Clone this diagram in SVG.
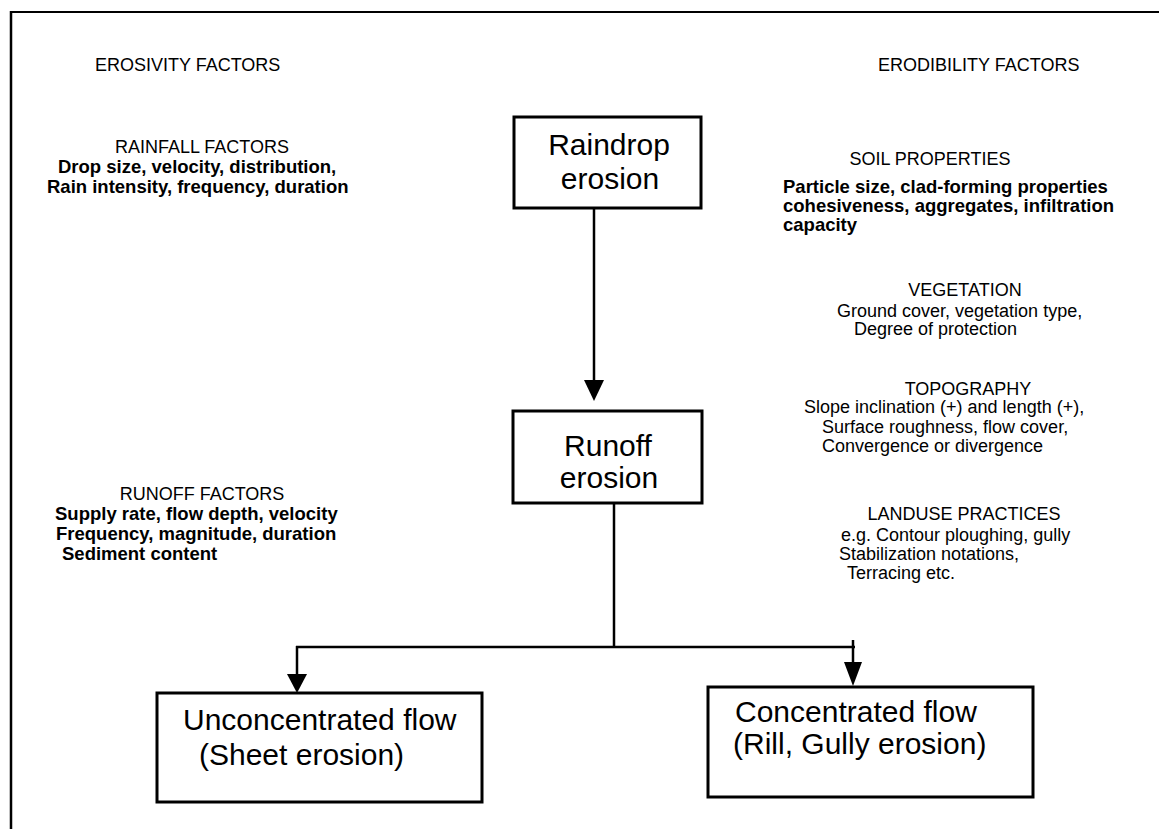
<svg xmlns="http://www.w3.org/2000/svg" width="1159" height="829" viewBox="0 0 1159 829">
<style>
.h{font-family:"Liberation Sans",Arial,sans-serif;font-size:18px;fill:#000}
.b{font-family:"Liberation Sans",Arial,sans-serif;font-size:18.5px;font-weight:bold;fill:#000}
.r{font-family:"Liberation Sans",Arial,sans-serif;font-size:18px;fill:#000}
.bx{font-family:"Liberation Sans",Arial,sans-serif;font-size:30px;fill:#000}
.box{fill:#fff;stroke:#000;stroke-width:3}
.ln{stroke:#000;stroke-width:2.5;fill:none}
.hd{fill:#000}
.m{text-anchor:middle}
</style>
<rect width="1159" height="829" fill="#fff"/>
<g id="frame">
<line x1="11" y1="12" x2="1159" y2="12" stroke="#000" stroke-width="2"/>
<line x1="11" y1="11" x2="11" y2="829" stroke="#000" stroke-width="2.5"/>
</g>
<g id="erosivity-header"><text class="h" x="95" y="71">EROSIVITY FACTORS</text></g>
<g id="erodibility-header"><text class="h" x="878" y="71">ERODIBILITY FACTORS</text></g>
<g id="rainfall-factors">
<text class="h m" x="202" y="153">RAINFALL FACTORS</text>
<text class="b" x="58" y="173">Drop size, velocity, distribution,</text>
<text class="b" x="47" y="193">Rain intensity, frequency, duration</text>
</g>
<g id="runoff-factors">
<text class="h m" x="202" y="500">RUNOFF FACTORS</text>
<text class="b" x="55" y="520">Supply rate, flow depth, velocity</text>
<text class="b" x="56" y="540">Frequency, magnitude, duration</text>
<text class="b" x="62" y="560">Sediment content</text>
</g>
<g id="soil-properties">
<text class="h m" x="930" y="165">SOIL PROPERTIES</text>
<text class="b" x="783" y="193">Particle size, clad-forming properties</text>
<text class="b" x="783" y="212">cohesiveness, aggregates, infiltration</text>
<text class="b" x="783" y="231">capacity</text>
</g>
<g id="vegetation">
<text class="h m" x="965" y="296">VEGETATION</text>
<text class="r" x="837" y="317">Ground cover, vegetation type,</text>
<text class="r" x="854" y="335">Degree of protection</text>
</g>
<g id="topography">
<text class="h m" x="968" y="395">TOPOGRAPHY</text>
<text class="r" x="804" y="413">Slope inclination (+) and length (+),</text>
<text class="r" x="822" y="433">Surface roughness, flow cover,</text>
<text class="r" x="822" y="452">Convergence or divergence</text>
</g>
<g id="landuse">
<text class="h m" x="964" y="520">LANDUSE PRACTICES</text>
<text class="r" x="841" y="541">e.g. Contour ploughing, gully</text>
<text class="r" x="839" y="560">Stabilization notations,</text>
<text class="r" x="847" y="579">Terracing etc.</text>
</g>
<g id="raindrop-erosion">
<rect class="box" x="514" y="117" width="187" height="91"/>
<text class="bx m" x="609" y="155">Raindrop</text>
<text class="bx m" x="610" y="189">erosion</text>
</g>
<g id="runoff-erosion">
<rect class="box" x="513" y="411" width="189" height="92"/>
<text class="bx m" x="608" y="456">Runoff</text>
<text class="bx m" x="609" y="488">erosion</text>
</g>
<g id="unconcentrated-flow">
<rect class="box" x="157" y="693" width="325" height="109"/>
<text class="bx" x="183" y="730">Unconcentrated flow</text>
<text class="bx" x="199" y="765">(Sheet erosion)</text>
</g>
<g id="concentrated-flow">
<rect class="box" x="708" y="687" width="325" height="110"/>
<text class="bx" x="735" y="722">Concentrated flow</text>
<text class="bx" x="733" y="754">(Rill, Gully erosion)</text>
</g>
<g id="connectors">
<line class="ln" x1="594" y1="208" x2="594" y2="382"/>
<polygon class="hd" points="584,380 604,380 594,401"/>
<line class="ln" x1="614" y1="503" x2="614" y2="647"/>
<line class="ln" x1="296" y1="647" x2="855" y2="647"/>
<line class="ln" x1="297" y1="646" x2="297" y2="676"/>
<polygon class="hd" points="287,674 307,674 297,693"/>
<line class="ln" x1="853" y1="640" x2="853" y2="664"/>
<polygon class="hd" points="844,662 862,662 853,686"/>
</g>
</svg>
